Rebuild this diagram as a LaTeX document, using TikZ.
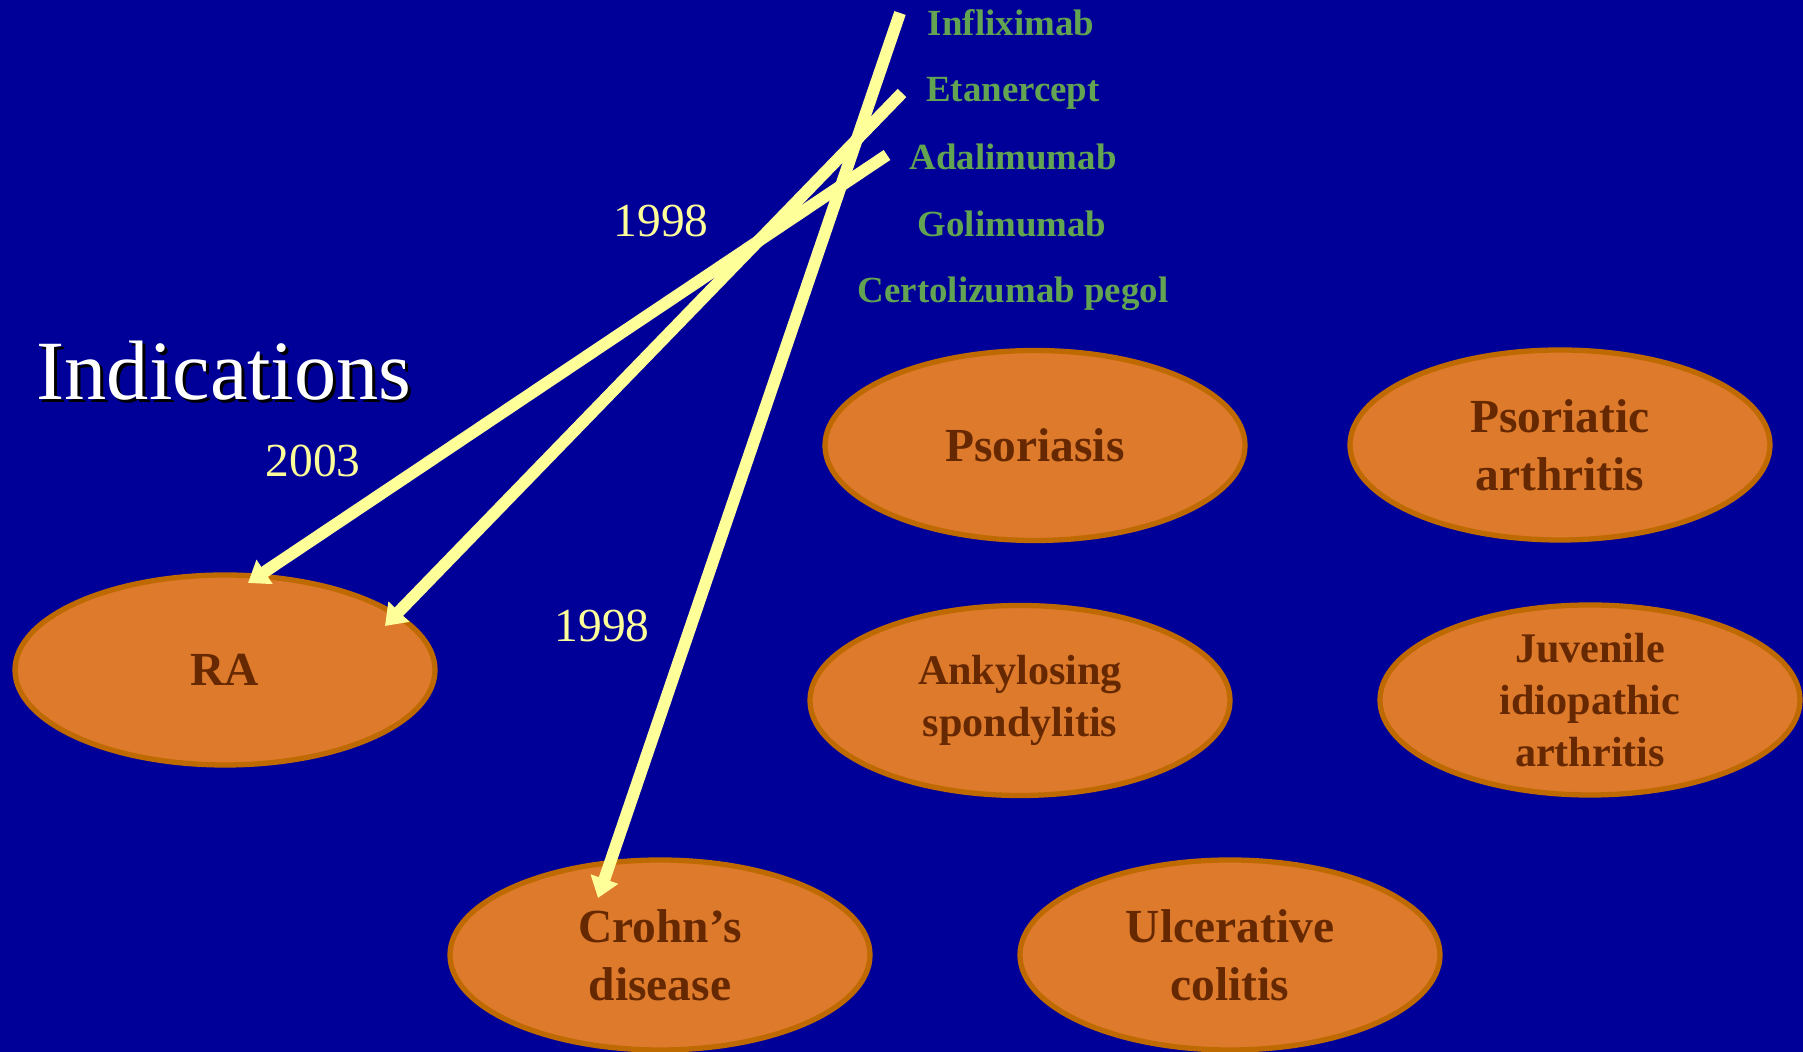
\documentclass[tikz,border=0pt]{standalone}
\usepackage{fontspec}
\setmainfont{Liberation Serif}
\usetikzlibrary{shapes.geometric,arrows.meta,calc}
\definecolor{bgblue}{RGB}{0,0,153}
\definecolor{disfill}{RGB}{221,122,43}
\definecolor{disline}{RGB}{191,106,0}
\definecolor{distext}{RGB}{102,40,0}
\definecolor{drug}{RGB}{98,164,82}
\definecolor{pale}{RGB}{255,255,153}
\tikzset{
  dis/.style ={ellipse,draw=disline,fill=disfill,line width=1.5pt,minimum width=4.2cm,minimum height=1.9cm,
               inner sep=0pt,align=center,text=distext,font=\fontsize{13.5}{16.5}\selectfont\bfseries},
  tight/.style={font=\fontsize{12}{14.7}\selectfont\bfseries},
  drg/.style ={anchor=base,text=drug,inner sep=0pt,font=\fontsize{10.5}{12}\selectfont\bfseries},
  yr/.style  ={anchor=base,text=pale,inner sep=0pt,font=\fontsize{13.5}{16}\selectfont},
  ttl/.style ={anchor=base west,inner sep=0pt,font=\fontsize{24}{28}\selectfont},
  arr/.style ={-{Triangle[length=0.2cm,width=0.28cm]},draw=pale,line width=3.4pt},
}

\begin{document}
\begin{tikzpicture}

\useasboundingbox (0,0) rectangle (18.03,-10.52);
\fill[bgblue] (0,0) rectangle (18.03,-10.52);

% ===================== TITEL / JAHRE =================================
\node[ttl,text=black] (ttlsh) at (0.39,-4.03) {Indications};
\node[ttl,text=white] (ttl)   at (0.36,-4.00) {Indications};

\node[yr] (y98a) at (6.61,-2.37) {1998};
\node[yr] (y03)  at (3.13,-4.77) {2003};
\node[yr] (y98b) at (6.02,-6.42) {1998};

% ===================== WIRKSTOFFE ====================================
\node[drg] (infl)  at (10.11,-0.36) {Infliximab};
\node[drg] (eta)   at (10.13,-1.02) {Etanercept};
\node[drg] (ada)   at (10.13,-1.70) {Adalimumab};
\node[drg] (goli)  at (10.12,-2.37) {Golimumab};
\node[drg] (certo) at (10.13,-3.03) {Certolizumab pegol};

% ===================== INDIKATIONEN ==================================
\node[dis] (ra)   at (2.25,-6.70)  {RA};
\node[dis] (pso)  at (10.35,-4.455){Psoriasis};
\node[dis] (psa)  at (15.60,-4.45) {Psoriatic\\arthritis};
\node[dis,tight] (ank) at (10.20,-7.005){Ankylosing\\spondylitis};
\node[dis,tight,inner ysep=-0.3cm] (jia) at (15.90,-7.00){Juvenile\\idiopathic\\arthritis};
\node[dis] (cd)   at (6.60,-9.55)  {Crohn's\\disease};
\node[dis] (uc)   at (12.30,-9.55) {Ulcerative\\colitis};

% ===================== PFEILE ========================================
\coordinate (inflS) at (9.00,-0.13);
\coordinate (etaS)  at (9.02,-0.93);
\coordinate (adaS)  at (8.87,-1.55);

\draw[arr] (inflS) -- ($(cd.center)+(-0.62,0.57)$);
\draw[arr] (etaS)  -- ($(ra.center)+(1.60,0.44)$);
\draw[arr] (adaS)  -- ($(ra.center)+(0.23,0.87)$);

\end{tikzpicture}
\end{document}
